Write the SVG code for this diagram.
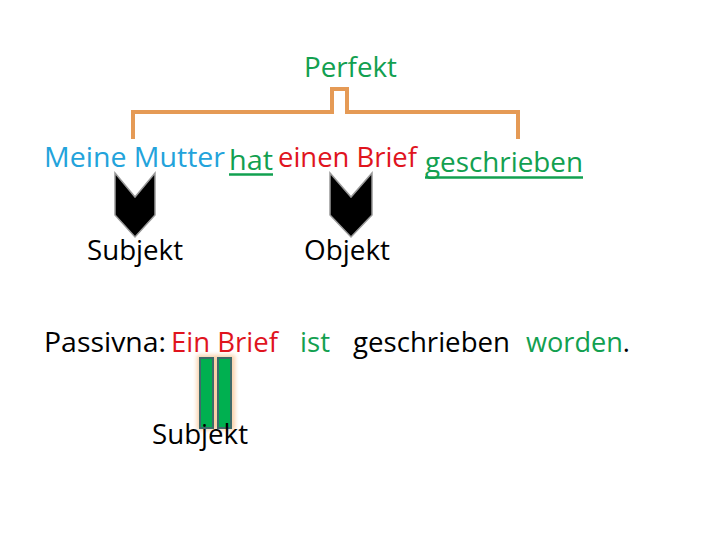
<svg xmlns="http://www.w3.org/2000/svg" width="720" height="540" viewBox="0 0 720 540">
<defs>
<filter id="glow" x="-50%" y="-20%" width="200%" height="140%"><feGaussianBlur stdDeviation="2"/></filter>
</defs>
<style>
text{font-family:"Open Sans","Liberation Sans",sans-serif;font-size:28px}
.k{fill:#000}.b{fill:#23A3DB}.r{fill:#E0141E}.g{fill:#12A050}
.ul{stroke:#12A050;stroke-width:2.5}
.chev{fill:#000;stroke:#999;stroke-width:1.5}
.bar{fill:#00B050;stroke:#3E6A6A;stroke-width:2}
</style>
<rect width="720" height="540" fill="#fff"/>
<g id="perfekt"><text class="g" x="304" y="77" textLength="93" lengthAdjust="spacingAndGlyphs">Perfekt</text></g>
<g id="connectors">
<path d="M133,139 V112 H332 V89 H347 V112 H518 V139" fill="none" stroke="#E59A55" stroke-width="4"/>
</g>
<g id="sentence">
<text class="b" x="44" y="167" textLength="181" lengthAdjust="spacingAndGlyphs">Meine Mutter</text>
<text class="g" x="229" y="170" textLength="44" lengthAdjust="spacingAndGlyphs">hat</text>
<line class="ul" x1="229" y1="174.5" x2="273" y2="174.5"/>
<text class="r" x="278" y="167" textLength="139" lengthAdjust="spacingAndGlyphs">einen Brief</text>
<text class="g" x="425" y="172" textLength="158" lengthAdjust="spacingAndGlyphs">geschrieben</text>
<line class="ul" x1="425" y1="177.5" x2="583" y2="177.5"/>
</g>
<g id="chevron1"><path class="chev" d="M115,173 L135,197 L155,173 V215 L135,237 L115,215 Z"/></g>
<g id="chevron2"><path class="chev" d="M330,173 L351,197 L372,173 V215 L351,237 L330,215 Z"/></g>
<g id="subjekt1"><text class="k" x="87" y="260" textLength="96" lengthAdjust="spacingAndGlyphs">Subjekt</text></g>
<g id="objekt"><text class="k" x="304" y="260" textLength="86" lengthAdjust="spacingAndGlyphs">Objekt</text></g>
<g id="passiv">
<text class="k" x="44" y="352" textLength="122" lengthAdjust="spacingAndGlyphs">Passivna:</text>
<text class="r" x="171" y="352" textLength="107" lengthAdjust="spacingAndGlyphs">Ein Brief</text>
<text class="g" x="300" y="352" textLength="30" lengthAdjust="spacingAndGlyphs">ist</text>
<text class="k" x="353" y="352" textLength="157" lengthAdjust="spacingAndGlyphs">geschrieben</text>
<text x="526" y="352" textLength="104" lengthAdjust="spacingAndGlyphs"><tspan class="g">worden</tspan><tspan class="k">.</tspan></text>
</g>
<g id="bars">
<rect x="197" y="355" width="38" height="75" fill="#F7B070" opacity="0.6" filter="url(#glow)"/>
<rect class="bar" x="200" y="358" width="13" height="70"/>
<rect class="bar" x="218" y="358" width="13" height="70"/>
</g>
<g id="subjekt2"><text class="k" x="152" y="444" textLength="96" lengthAdjust="spacingAndGlyphs">Subjekt</text></g>
</svg>
